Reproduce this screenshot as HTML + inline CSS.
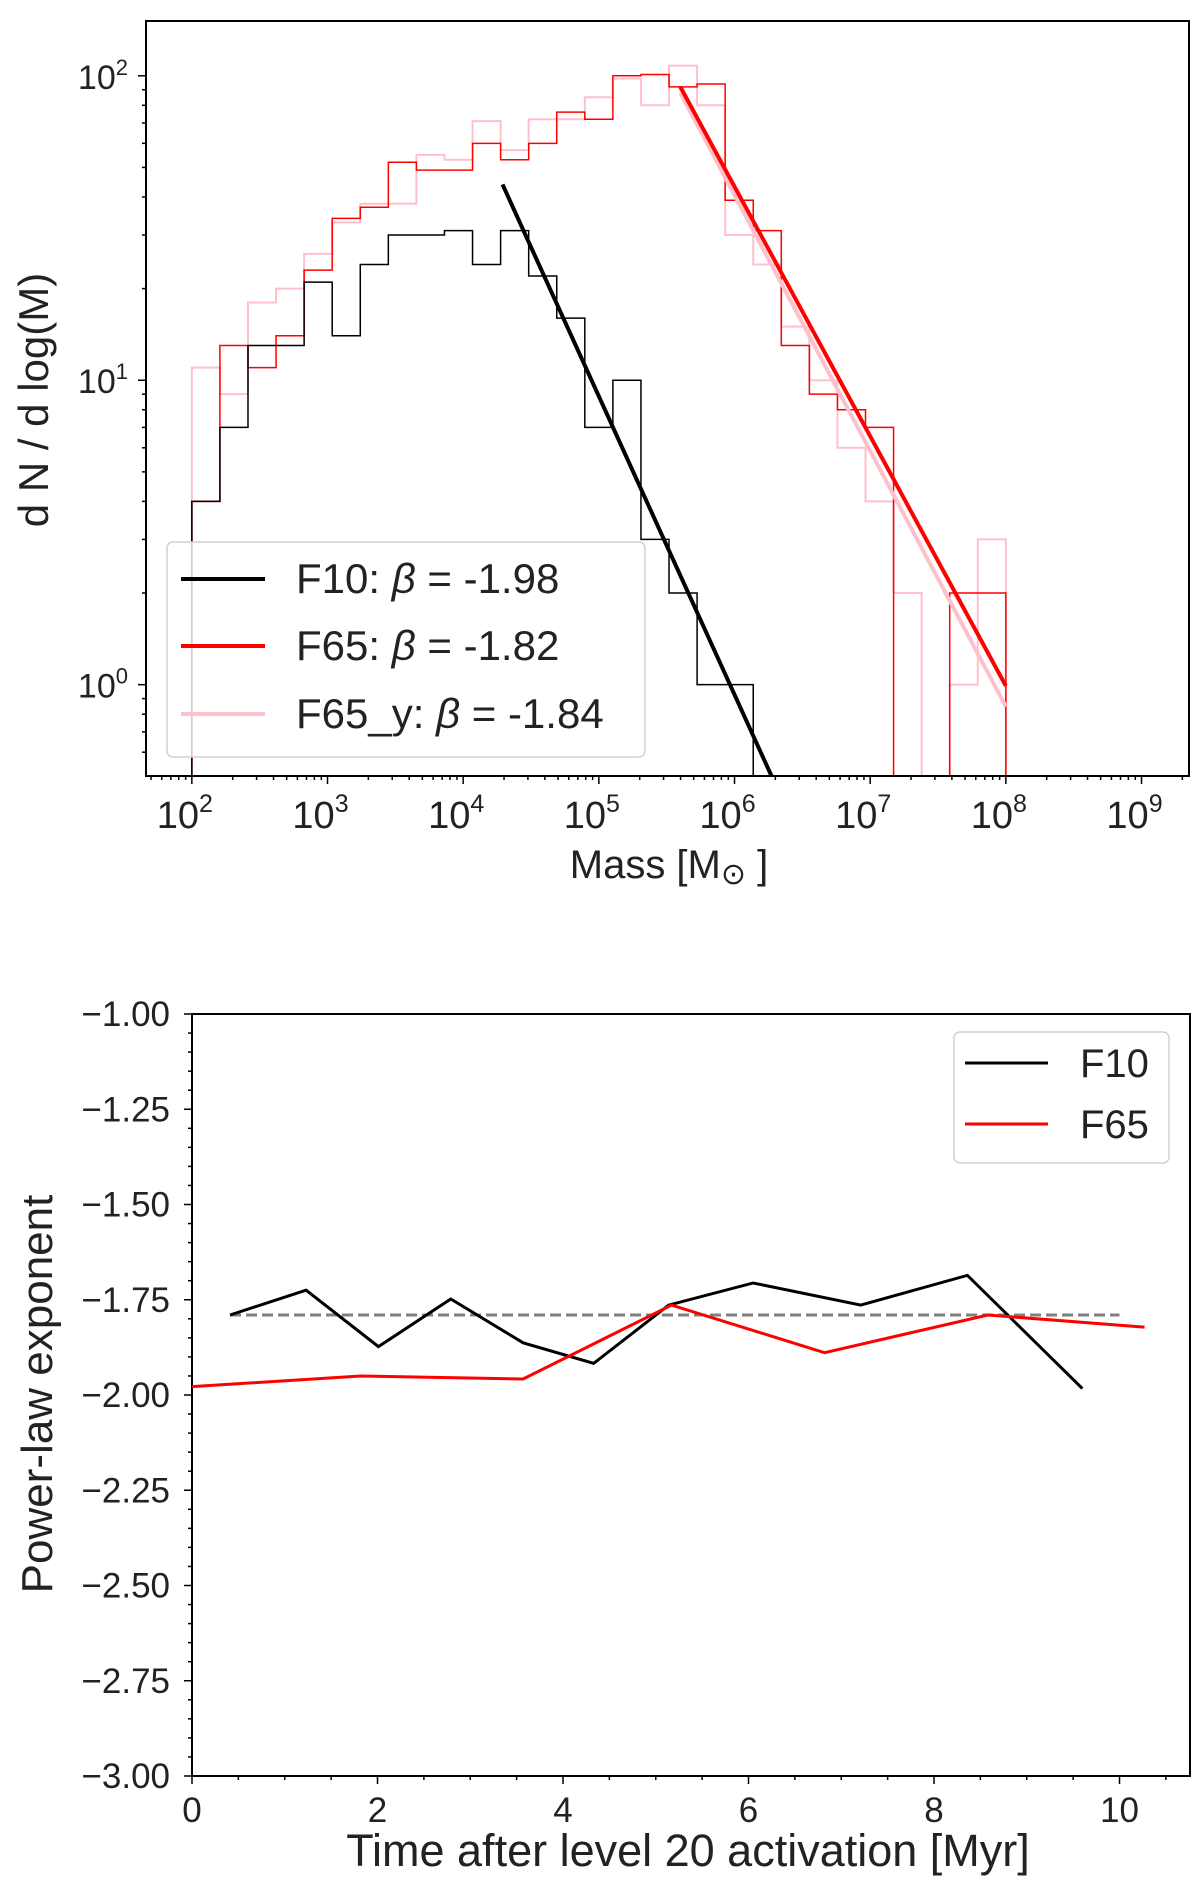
<!DOCTYPE html>
<html><head><meta charset="utf-8"><style>
body{margin:0;background:#fff}
svg{display:block}
text{font-family:"Liberation Sans","DejaVu Sans",sans-serif;fill:#222}
</style></head><body>
<svg id="fig" width="1200" height="1880" viewBox="0 0 1200 1880" xmlns="http://www.w3.org/2000/svg">
<g id="top"></g>
<g id="bot"></g>
</svg>
<script>
// ---- Top chart data ----
const binLo = 2.0, binHi = 8.0, nBins = 29;
const f10Counts = [4,7,13,13,21,14,24,30,30,31,24,31,22,16,7,10,3,2,1,1,0,0,0,0,0,0,0,0,0];
const f65Counts = [4,13,11,14,23,34,37,52,49,49,60,53,60,76,72,100,101,92,94,39,31,13,9,8,7,0,0,2,2];
const f65yCounts = [11,9,18,20,26,33,38,38,55,53,71,57,72,72,85,98,80,108,80,30,24,15,10,6,4,2,0,1,3];
const fitF10 = {x0:4.29, x1:6.3, logA:1.643, slope:-0.98};
const fitF65 = {x0:5.6, x1:8.0, logA:1.964, slope:-0.82};
const fitF65y = {x0:5.6, x1:8.0, logA:1.944, slope:-0.84};
const xTickDecades = [2,3,4,5,6,7,8,9];
const yTickDecades = [0,1,2];
const legendNames = ["F10","F65","F65_y"];
const legendBetas = ["-1.98","-1.82","-1.84"];

// ---- Bottom chart data ----
const tF10 = [0.41,1.23,2.01,2.79,3.57,4.33,5.14,6.05,7.21,8.36,9.60];
const betaF10 = [-1.79,-1.725,-1.873,-1.748,-1.863,-1.917,-1.764,-1.706,-1.764,-1.686,-1.983];
const tF65 = [0.0,1.82,3.57,5.17,6.82,8.58,10.27];
const betaF65 = [-1.978,-1.95,-1.958,-1.764,-1.889,-1.79,-1.822];
const refBeta = -1.79, refT0 = 0.41, refT1 = 10.0;
const xTicksBot = [0,2,4,6,8,10];
const yTicksBot = [-1.00,-1.25,-1.50,-1.75,-2.00,-2.25,-2.50,-2.75,-3.00];

const NS="http://www.w3.org/2000/svg";
function mk(parent,tag,attrs,txt){const e=document.createElementNS(NS,tag);for(const k in attrs)e.setAttribute(k,attrs[k]);if(txt!==undefined)e.textContent=txt;parent.appendChild(e);return e;}

// ===== TOP =====
const T=document.getElementById('top');
const L=146,R=1189,TT=21,B=776;
const xMinL=1.662,xMaxL=9.35,yMinL=-0.30,yMaxL=2.18;
const sx=lx=>L+(lx-xMinL)/(xMaxL-xMinL)*(R-L);
const sy=ly=>B-(ly-yMinL)/(yMaxL-yMinL)*(B-TT);
const clip=mk(T,'clipPath',{id:'c1'});mk(clip,'rect',{x:L,y:TT,width:R-L,height:B-TT});
function stepPath(counts){
  let d='';const w=(binHi-binLo)/nBins;
  const yv=c=>c>0?sy(Math.log10(c)):B+20;
  for(let i=0;i<counts.length;i++){
    const x0=sx(binLo+i*w),x1=sx(binLo+(i+1)*w),y=yv(counts[i]);
    d+=(i===0?`M${x0},${B+20}L${x0},${y}`:`L${x0},${y}`)+`L${x1},${y}`;
  }
  d+=`L${sx(binHi)},${B+20}`;return d;
}
const gData=mk(T,'g',{'clip-path':'url(#c1)'});


let p=mk(gData,'path',{d:stepPath(f65yCounts),fill:'none',stroke:'#ffc0cb','stroke-width':2});

p=mk(gData,'path',{d:stepPath(f65Counts),fill:'none',stroke:'#ff0000','stroke-width':1.5});

p=mk(gData,'path',{d:stepPath(f10Counts),fill:'none',stroke:'#000','stroke-width':1.5});

function fitLine(f,color,name){
  const l=mk(gData,'line',{x1:sx(f.x0),y1:sy(f.logA),x2:sx(f.x1),y2:sy(f.logA+f.slope*(f.x1-f.x0)),stroke:color,'stroke-width':4});
  
}
fitLine(fitF65y,'#ffc0cb','f65y-fit-line');
fitLine(fitF65,'#ff0000','f65-fit-line');
fitLine(fitF10,'#000','f10-fit-line');
let fr=mk(T,'rect',{x:L,y:TT,width:R-L,height:B-TT,fill:'none',stroke:'#000','stroke-width':2});

for(let d=1;d<=9;d++){for(let m=1;m<10;m++){const lx=d+Math.log10(m);if(lx<xMinL||lx>xMaxL)continue;
  const x=sx(lx);mk(T,'line',{x1:x,y1:B,x2:x,y2:B+(m===1?8:4),stroke:'#000','stroke-width':1.5});}}
xTickDecades.forEach(d=>{const t=mk(T,'text',{x:sx(d)-7,y:828,'font-size':38,'text-anchor':'middle'});
  
  t.textContent='10';mk(t,'tspan',{dy:-16,'font-size':25},String(d));});
for(let d=-1;d<=2;d++){for(let m=1;m<10;m++){const ly=d+Math.log10(m);if(ly<yMinL||ly>yMaxL)continue;
  const y=sy(ly);mk(T,'line',{x1:L,y1:y,x2:L-(m===1?8:4),y2:y,stroke:'#000','stroke-width':1.5});}}
yTickDecades.forEach(d=>{const t=mk(T,'text',{x:128,y:sy(d)+13,'font-size':34,'text-anchor':'end'});
  
  t.textContent='10';mk(t,'tspan',{dy:-14,'font-size':22},String(d));});
let xl=mk(T,'text',{x:669,y:878,'font-size':40,'text-anchor':'middle'},'Mass [M');
mk(xl,'tspan',{'font-size':30,dy:6},'⊙');mk(xl,'tspan',{dy:-6},' ]');

let yl=mk(T,'text',{x:0,y:0,'font-size':42,'text-anchor':'middle',transform:'translate(48,400) rotate(-90)'},'d N / d log(M)');

const lg=mk(T,'g',{});
mk(lg,'rect',{x:167,y:542,width:478,height:215,rx:6,fill:'rgba(255,255,255,0.8)',stroke:'#d0d0d0','stroke-width':1.5});
const lcol=['#000','#ff0000','#ffc0cb'],ly=[579,646,714];
legendNames.forEach((s,i)=>{const e=mk(lg,'g',{});
  mk(e,'line',{x1:181,y1:ly[i],x2:265,y2:ly[i],stroke:lcol[i],'stroke-width':4});
  const t=mk(e,'text',{x:296,y:ly[i]+14,'font-size':42},s+': ');
  mk(t,'tspan',{'font-style':'italic'},'β');mk(t,'tspan',{},' = '+legendBetas[i]);});

// ===== BOTTOM =====
const G=document.getElementById('bot');
const L2=192,R2=1190,T2=1014,B2=1776;
const xMax2=10.76;
const bx=t=>L2+t/xMax2*(R2-L2);
const by=v=>T2+(-1-v)/2*(B2-T2);
fr=mk(G,'rect',{x:L2,y:T2,width:R2-L2,height:B2-T2,fill:'none',stroke:'#000','stroke-width':2});

for(let v=-1;v>=-3.0001;v-=0.05){const y=by(v);const maj=Math.abs((v*4)-Math.round(v*4))<1e-6;
  mk(G,'line',{x1:L2,y1:y,x2:L2-(maj?8:4),y2:y,stroke:'#000','stroke-width':1.5});}
for(let t=0;t<=xMax2;t+=0.5){const x=bx(t);const maj=Math.abs(t/2-Math.round(t/2))<1e-6;
  mk(G,'line',{x1:x,y1:B2,x2:x,y2:B2+(maj?8:4),stroke:'#000','stroke-width':1.5});}
yTicksBot.forEach(v=>{const t=mk(G,'text',{x:170,y:by(v)+12,'font-size':35,'text-anchor':'end'},'−'+Math.abs(v).toFixed(2));
  });
xTicksBot.forEach(v=>{const t=mk(G,'text',{x:bx(v),y:1822,'font-size':35,'text-anchor':'middle'},String(v));
  });
xl=mk(G,'text',{x:688,y:1866,'font-size':45,'text-anchor':'middle'},'Time after level 20 activation [Myr]');

yl=mk(G,'text',{x:0,y:0,'font-size':44,'text-anchor':'middle',transform:'translate(52,1394) rotate(-90)'},'Power-law exponent');

let ref=mk(G,'line',{x1:bx(refT0),y1:by(refBeta),x2:bx(refT1),y2:by(refBeta),stroke:'#808080','stroke-width':3,'stroke-dasharray':'11,5'});

function poly(ts,vs,c,name){const l=mk(G,'polyline',{points:ts.map((t,i)=>bx(t)+','+by(vs[i])).join(' '),fill:'none',stroke:c,'stroke-width':3});
  }
poly(tF10,betaF10,'#000','f10-line');
poly(tF65,betaF65,'#ff0000','f65-line');
const lg2=mk(G,'g',{});
mk(lg2,'rect',{x:954,y:1032,width:215,height:131,rx:6,fill:'rgba(255,255,255,0.8)',stroke:'#d0d0d0','stroke-width':1.5});
[['F10','#000',1063],['F65','#ff0000',1124]].forEach(a=>{const e=mk(lg2,'g',{});
  mk(e,'line',{x1:965,y1:a[2],x2:1048,y2:a[2],stroke:a[1],'stroke-width':3});
  mk(e,'text',{x:1080,y:a[2]+14,'font-size':40},a[0]);});
</script>
</body></html>
